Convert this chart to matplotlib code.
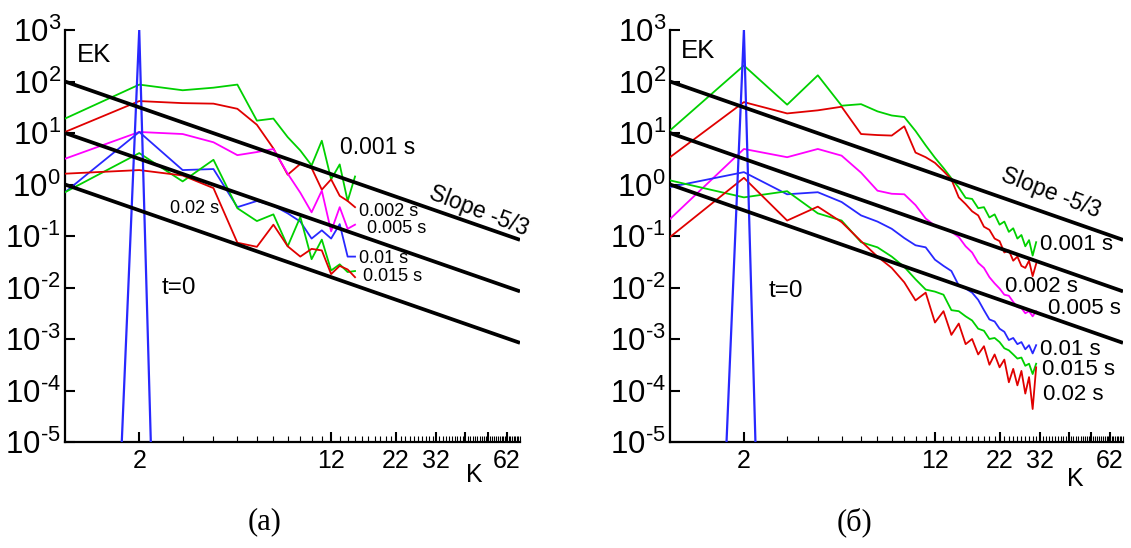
import numpy as np
import matplotlib
matplotlib.use("Agg")
import matplotlib.pyplot as plt
from matplotlib.ticker import FixedLocator, FixedFormatter, NullLocator

plt.rcParams['font.family'] = ['Liberation Sans', 'DejaVu Sans']
plt.rcParams['mathtext.fontset'] = 'custom'
plt.rcParams['mathtext.rm'] = 'Liberation Sans'
plt.rcParams['mathtext.it'] = 'Liberation Sans:italic'
plt.rcParams['mathtext.bf'] = 'Liberation Sans:bold'

# ---------------- data (log10 of EK) ----------------
K_a = list(range(1, 16))
a_001 = [1.28, 1.94, 1.83, 1.88, 1.94, 1.24, 1.28, 0.92, 0.66, 0.37, 0.85, 0.10, 0.39, -0.32, 0.155]
a_002 = [1.02, 1.62, 1.58, 1.57, 1.47, 1.16, 0.70, 0.19, 0.40, 0.32, -0.10, 0.10, -0.22, -0.32, -0.44]
a_005 = [0.50, 1.02, 0.98, 0.82, 0.57, 0.63, 0.69, 0.21, -0.16, -0.54, -0.12, -0.91, -0.44, -0.86, -0.78]
a_010 = [-0.15, 1.02, 0.28, 0.30, -0.44, -0.32, -0.41, -0.56, -0.72, -1.05, -0.89, -1.05, -0.77, -1.40, -1.40]
a_015 = [-0.15, 0.61, 0.06, 0.48, -0.46, -0.71, -0.58, -1.20, -0.63, -1.45, -1.07, -1.67, -1.55, -1.70, -1.68]
a_020 = [0.21, 0.28, 0.175, -0.07, -1.13, -1.21, -0.78, -1.20, -1.40, -1.25, -1.28, -1.74, -1.58, -1.65, -1.80]

K_b = list(range(1, 32))
b_001 = [1.05, 2.31, 1.55, 2.12, 1.53, 1.56, 1.42, 1.34, 1.31, 1.04, 0.76, 0.52, 0.32, 0.12, -0.06, -0.26,
         -0.28, -0.46, -0.44, -0.64, -0.58, -0.78, -0.72, -0.92, -0.85, -1.05, -0.98, -1.20, -1.08, -1.38, -1.12]
b_002 = [0.53, 1.60, 1.38, 1.44, 1.51, 0.98, 0.96, 0.95, 1.13, 0.62, 0.53, 0.42, 0.26, 0.10, -0.25, -0.38,
         -0.52, -0.60, -0.82, -0.88, -1.05, -1.10, -1.32, -1.28, -1.48, -1.40, -1.58, -1.62, -1.48, -1.78, -1.54]
b_005 = [-0.67, 0.69, 0.53, 0.69, 0.56, 0.23, -0.12, -0.18, -0.19, -0.40, -0.66, -0.80, -0.86, -0.92, -1.02, -1.20,
         -1.32, -1.52, -1.62, -1.80, -1.92, -2.02, -2.14, -2.16, -2.28, -2.38, -2.40, -2.50, -2.46, -2.56, -2.46]
b_010 = [-0.05, 0.24, -0.19, -0.15, -0.34, -0.60, -0.72, -0.86, -1.04, -1.18, -1.22, -1.46, -1.58, -1.68, -1.96, -2.02,
         -2.10, -2.24, -2.44, -2.62, -2.66, -2.80, -2.86, -3.02, -2.98, -3.10, -3.06, -3.20, -3.12, -3.28, -3.12]
b_015 = [0.08, -0.25, -0.13, -0.56, -0.70, -1.12, -1.22, -1.40, -1.60, -1.84, -2.04, -2.08, -2.14, -2.44, -2.46, -2.56,
         -2.64, -2.80, -2.84, -3.00, -2.98, -3.06, -3.18, -3.22, -3.30, -3.38, -3.36, -3.52, -3.48, -3.68, -3.48]
b_020 = [-1.02, 0.13, -0.70, -0.43, -0.73, -1.10, -1.40, -1.62, -1.90, -2.25, -2.10, -2.68, -2.46, -2.92, -2.70, -3.10,
         -3.00, -3.30, -3.14, -3.50, -3.30, -3.55, -3.40, -3.84, -3.58, -3.90, -3.62, -4.06, -3.74, -4.36, -3.55]

# t = 0 initial spectrum (single spike at K = 2)
K_t0 = [1, 2, 3]
t0_log = [-31.0, 3.0, -27.0]

# -5/3 reference lines: EK = C * K^(-5/3)
slope_C = [100.0, 10.0, 1.0]
slope_K = [1.0, 70.0]

x_major = [2, 12, 22, 32, 42, 52, 62]
x_major_labels = ['2', '12', '22', '32', '', '', '62']
x_minor = [k for k in range(3, 71) if k not in x_major]
y_exps = list(range(-5, 4))
y_labels = [r'$\mathregular{10^{%s}}$' % (('\u2010%d' % -e) if e < 0 else ('%d' % e)) for e in y_exps]

GREEN = '#00d000'
RED = '#e00000'
MAG = '#ff00ff'
BLUE = '#2828ff'

series_a = [(a_001, GREEN), (a_002, RED), (a_005, MAG), (a_010, BLUE), (a_015, GREEN), (a_020, RED)]
series_b = [(b_001, GREEN), (b_002, RED), (b_005, MAG), (b_010, BLUE), (b_015, GREEN), (b_020, RED)]

fig = plt.figure(figsize=(11.31, 5.48), dpi=100)
W, H = 1131.0, 548.0
ax_a = fig.add_axes([65 / W, 1 - 442 / H, 455 / W, 412 / H])
ax_b = fig.add_axes([670 / W, 1 - 442 / H, 453 / W, 412 / H])


def style(ax):
    ax.set_xscale('log')
    ax.set_yscale('log')
    ax.set_xlim(1, 70)
    ax.set_ylim(1e-5, 1e3)
    for s in ['top', 'right']:
        ax.spines[s].set_visible(False)
    for s in ['left', 'bottom']:
        ax.spines[s].set_linewidth(1.6)
    ax.yaxis.set_major_locator(FixedLocator([10.0 ** e for e in y_exps]))
    ax.yaxis.set_major_formatter(FixedFormatter(y_labels))
    ax.yaxis.set_minor_locator(NullLocator())
    ax.xaxis.set_major_locator(FixedLocator(x_major))
    ax.xaxis.set_major_formatter(FixedFormatter(x_major_labels))
    ax.xaxis.set_minor_locator(FixedLocator(x_minor))
    ax.xaxis.set_minor_formatter(FixedFormatter([''] * len(x_minor)))
    ax.tick_params(axis='y', which='major', direction='in', length=7, width=1.5, labelsize=22.5, pad=3)
    ax.tick_params(axis='x', which='major', direction='in', length=7, width=1.5, labelsize=18, pad=5)
    ax.tick_params(axis='x', which='minor', direction='in', length=4, width=0.8)


for ax, K, series in [(ax_a, K_a, series_a), (ax_b, K_b, series_b)]:
    style(ax)
    for vals, col in series:
        ax.plot(K, 10.0 ** np.array(vals), color=col, lw=1.3, zorder=3)
    ax.plot(K_t0, 10.0 ** np.array(t0_log), color=BLUE, lw=1.6, zorder=3)
    for C in slope_C:
        ax.plot(slope_K, [C * k ** (-5.0 / 3.0) for k in slope_K], color='black', lw=2.7, zorder=4,
                solid_capstyle='butt')

# ---- annotations, panel (a)
ax_a.text(12.98, 5.2, '0.001 s', fontsize=16.5, va='center', ha='left')
ax_a.text(15.6, 0.30, '0.002 s', fontsize=13, va='center', ha='left')
ax_a.text(16.7, 0.14, '0.005 s', fontsize=13, va='center', ha='left')
ax_a.text(15.5, 0.0366, '0.01 s', fontsize=13, va='center', ha='left')
ax_a.text(16.1, 0.0164, '0.015 s', fontsize=13, va='center', ha='left')
ax_a.text(2.66, 0.342, '0.02 s', fontsize=13, va='center', ha='left')
ax_a.text(2.47, 0.0100, 't=0', fontsize=17.5, va='center', ha='left')
ax_a.text(1.118, 320, 'EK', fontsize=18.5, va='center', ha='left')
ax_a.text(47.5, 0.31, 'Slope -5/3', fontsize=16.5, va='center', ha='center', rotation=-21)
ax_a.text(45.7, 10 ** -5.65, 'K', fontsize=18, va='center', ha='center')

# ---- annotations, panel (б)
ax_b.text(32.2, 0.068, '0.001 s', fontsize=16, va='center', ha='left')
ax_b.text(23.2, 0.0105, '0.002 s', fontsize=16, va='center', ha='left')
ax_b.text(34.7, 0.0039, '0.005 s', fontsize=16, va='center', ha='left')
ax_b.text(32.2, 6.3e-4, '0.01 s', fontsize=16, va='center', ha='left')
ax_b.text(32.8, 2.6e-4, '0.015 s', fontsize=16, va='center', ha='left')
ax_b.text(33.1, 8.5e-5, '0.02 s', fontsize=16, va='center', ha='left')
ax_b.text(2.51, 0.0087, 't=0', fontsize=17.5, va='center', ha='left')
ax_b.text(1.108, 383, 'EK', fontsize=18.5, va='center', ha='left')
ax_b.text(35.5, 0.70, 'Slope -5/3', fontsize=16.5, va='center', ha='center', rotation=-21)
ax_b.text(44.6, 10 ** -5.71, 'K', fontsize=18, va='center', ha='center')

fig.text(265 / W, 1 - 522 / H, '(а)', family=['Liberation Serif', 'DejaVu Serif'], fontsize=22,
         ha='center', va='center')
fig.text(855 / W, 1 - 522 / H, '(б)', family=['Liberation Serif', 'DejaVu Serif'], fontsize=22,
         ha='center', va='center')

fig.savefig('out.png', dpi=100)
